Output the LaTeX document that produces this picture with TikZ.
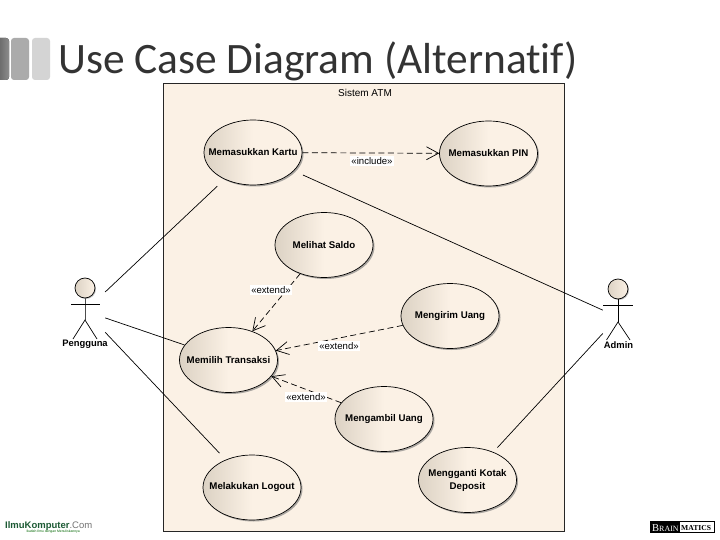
\documentclass[tikz,border=0pt]{standalone}
\usepackage{fontspec}
\setmainfont{Liberation Sans}
\newfontfamily\titlefont[Ligatures=NoCommon]{Carlito}
\newfontfamily\logoserif{Liberation Serif}
\usetikzlibrary{shapes.geometric,arrows.meta,shadows}
\definecolor{sysfill}{HTML}{FBF1E5}
\definecolor{ucdark}{HTML}{DCD2C4}
\definecolor{logogreen}{HTML}{1C5A34}
\tikzset{
  x=1pt,y=-1pt,
  uc/.style={ellipse,draw=black,line width=0.7pt,inner sep=0pt,minimum width=98pt,minimum height=65pt,
    left color=ucdark,right color=sysfill,middle color=sysfill,
    drop shadow={shadow xshift=1.5pt,shadow yshift=-1.5pt,fill=black!55,opacity=0.6}},
  uctext/.style={font=\fontsize{9.7}{13}\selectfont\bfseries,align=center},
  actorlabel/.style={font=\fontsize{9.4}{11}\selectfont\bfseries,inner sep=0pt},
  actorbox/.style={rectangle,inner sep=0pt,minimum height=60pt},
  assoc/.style={line width=0.7pt,black},
  dep/.style={line width=0.7pt,black,dash pattern=on 6pt off 3.5pt,
    -{Straight Barb[length=12pt,width=13pt,line width=0.7pt]}},
  deplabel/.style={font=\fontsize{9.6}{11}\selectfont,fill=white,inner sep=1pt,text=black},
  limb/.style={line width=0.7pt,black},
  bar/.style={rounded corners=3pt,draw=none}
}
\begin{document}
\begin{tikzpicture}
\useasboundingbox (0,0) rectangle (720,540);
\fill[white] (0,0) rectangle (720,540);
% title bars
\fill[bar,left color=black!65,right color=black!45] (-6,38) rectangle (9,80);
\fill[bar,fill=black!33] (11,38) rectangle (29,80);
\fill[bar,fill=black!17] (32,38) rectangle (50,80);
\node[anchor=base west,inner sep=0pt,font=\titlefont\fontsize{43.4}{48}\selectfont,text=black!80] (title) at (58,73.5) {Use Case Diagram (Alternatif)};
% system
\draw[line width=0.8pt,black!85,fill=sysfill] (163,83) rectangle (564.5,531);
\node[font=\fontsize{10}{12}\selectfont,inner sep=0pt] (sys) at (365,92.5) {Sistem ATM};
% use cases
\node[uc,label={[uctext]center:Memasukkan Kartu}] (kartu) at (253,152.5) {};
\node[uc,label={[uctext]center:Memasukkan PIN}] (pin) at (488.5,153.5) {};
\node[uc,label={[uctext]center:Melihat Saldo}] (saldo) at (324,245) {};
\node[uc,label={[uctext]center:Mengirim Uang}] (kirim) at (450,316) {};
\node[uc,label={[uctext]center:Memilih Transaksi}] (pilih) at (228.5,360) {};
\node[uc,label={[uctext]center:Mengambil Uang}] (ambil) at (384,419) {};
\node[uc,label={[uctext]center:Mengganti Kotak\\Deposit}] (ganti) at (467.5,480) {};
\node[uc,label={[uctext]center:Melakukan Logout}] (logout) at (252,487.5) {};
% actors
\node[actorbox,minimum width=40pt] (pengguna) at (85,311) {};
\node[actorbox,minimum width=30pt] (admin) at (618,317) {};
\node[circle,draw=black,line width=0.7pt,inner sep=0pt,minimum size=20pt,left color=ucdark,right color=sysfill,
  drop shadow={shadow xshift=1pt,shadow yshift=-1pt,fill=black!50,opacity=0.5}] (phead) at (85,288) {};
\draw[limb,black!70,line width=1pt] (phead.south) -- (85,320);
\draw[limb] (71,304) -- (100,304);
\draw[limb] (73,339) -- (85,320) -- (97,339);
\node[actorlabel] (plabel) at (85,344.5) {Pengguna};
\node[circle,draw=black,line width=0.7pt,inner sep=0pt,minimum size=20pt,left color=ucdark,right color=sysfill,
  drop shadow={shadow xshift=1pt,shadow yshift=-1pt,fill=black!50,opacity=0.5}] (ahead) at (618,289) {};
\draw[limb] (ahead.south) -- (618,322);
\draw[limb] (603,305) -- (633,305);
\draw[limb] (606.5,340) -- (618,322) -- (630,340);
\node[actorlabel] (alabel) at (618.5,345) {Admin};
% associations
\draw[assoc,shorten >=10pt] (pengguna) -- (kartu);
\draw[assoc] (pengguna) -- (pilih);
\draw[assoc,shorten >=9pt] (pengguna) -- (logout);
\draw[assoc,shorten >=10pt] (admin) -- (kartu);
\draw[assoc,shorten >=6pt] (admin) -- (ganti);
% dependencies
\draw[dep] (kartu) -- (pin);
\draw[dep] (saldo) -- (pilih);
\draw[dep] (kirim) -- (pilih);
\draw[dep] (ambil) -- (pilih);
\node[deplabel] (linc) at (372,161) {«include»};
\node[deplabel] (le1) at (271,290) {«extend»};
\node[deplabel] (le2) at (339,346) {«extend»};
\node[deplabel] (le3) at (306,397) {«extend»};
% logos
\node[anchor=base west,inner sep=0pt,font=\fontsize{9.5}{11}\selectfont\bfseries,text=logogreen] (ilmu) at (5,528)
  {IlmuKomputer\textcolor{black!55}{\mdseries.Com}};
\node[anchor=base east,inner sep=0pt,font=\fontsize{3.4}{4}\selectfont,text=green!40!black] (tag) at (80,532) {Ikatlah Ilmu dengan Menuliskannya};
\draw[line width=0.7pt,black,fill=white] (650.5,521) rectangle (714.5,532.5);
\fill[black] (650.5,521) rectangle (680,532.5);
\node[anchor=base west,inner sep=0pt,text=white,font=\logoserif\fontsize{10.5}{12}\selectfont] (brain) at (652,531) {B\fontsize{8}{9}\selectfont RAIN};
\node[anchor=base west,inner sep=0pt,text=black,font=\logoserif\fontsize{7.6}{9}\selectfont\bfseries] (matics) at (681,530) {MATICS};
\end{tikzpicture}
\end{document}
